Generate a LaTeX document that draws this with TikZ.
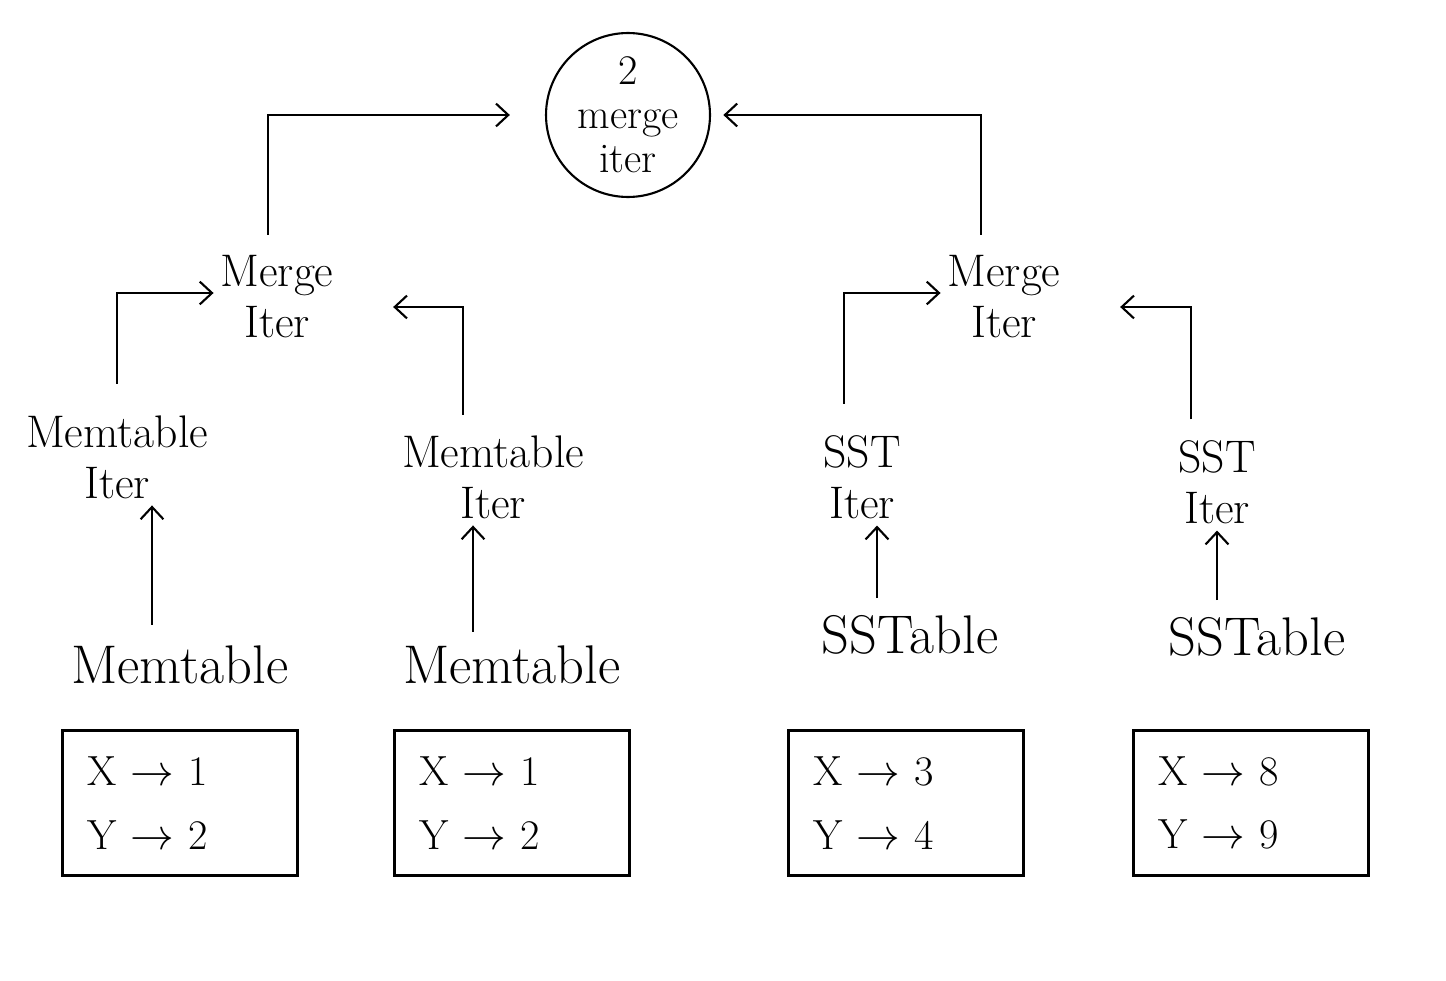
\documentclass[tikz,border=0pt]{standalone}
\usepackage{amsmath}
\usepackage{amssymb}
\usepackage{tikz}
\usetikzlibrary{shapes.geometric , arrows.meta}

\begin{document}
\begin{tikzpicture}[x=0.02cm, y=-0.02cm, line width=1.2pt,
  every node/.style={font=\fontsize{26}{29}\selectfont, align=center},
  src/.style={font=\fontsize{31}{34}\selectfont},
  arr/.style={-{Straight Barb[length=7pt,width=13pt]}, shorten <=8pt},
  kvbox/.style={draw, rectangle, text width=3.7cm, inner xsep=0.5cm, minimum height=2.9cm, align=left, font=\fontsize{24}{27}\selectfont}]

\useasboundingbox (0,0) rectangle (1446,980);

% Top level merge
\node[circle, draw, minimum size=3.28cm, inner sep=0pt, font=\fontsize{24}{25}\selectfont] (top) at (628,115) {2\\merge\\iter};

% Merge iterators
\node (mergeL) at (277,297) {Merge\\Iter};
\node (mergeR) at (1004,297) {Merge\\Iter};

% Child iterators
\node (miterA) at (117,457) {Memtable\\Iter};
\node (miterB) at (493,477) {Memtable\\Iter};
\node (siterA) at (862,477) {SST\\Iter};
\node (siterB) at (1217,482) {SST\\Iter};

% Sources
\node[src] (memA) at (180,665) {Memtable};
\node[src] (memB) at (512,665) {Memtable};
\node[src] (sstA) at (910,635) {SSTable};
\node[src] (sstB) at (1257,637) {SSTable};

% Key value boxes
\node[kvbox] (boxA) at (180,803) {X $\rightarrow$ 1\\[9pt] Y $\rightarrow$ 2};
\node[kvbox] (boxB) at (512,803) {X $\rightarrow$ 1\\[9pt] Y $\rightarrow$ 2};
\node[kvbox] (boxC) at (906,803) {X $\rightarrow$ 3\\[9pt] Y $\rightarrow$ 4};
\node[kvbox] (boxD) at (1251,803) {X $\rightarrow$ 8\\[9pt] Y $\rightarrow$ 9};

% Edges into the top merge
\draw[arr, shorten >=20pt] ([xshift=-0.18cm]mergeL.north) |- (top.west);
\draw[arr, shorten >=7pt] ([xshift=-0.46cm]mergeR.north) |- (top.east);

% Edges into the merge iterators
\draw[arr, shorten <=14pt] (miterA.north) |- ([yshift=0.08cm]mergeL.west);
\draw[arr, shorten >=30pt] ([xshift=-0.6cm]miterB.north) |- ([yshift=-0.2cm]mergeL.east);
\draw[arr, shorten <=14pt] ([xshift=-0.36cm]siterA.north) |- ([yshift=0.08cm]mergeR.west);
\draw[arr, shorten >=30pt] ([xshift=-0.52cm]siterB.north) |- ([yshift=-0.2cm]mergeR.east);

% Edges from sources to iterators
\draw[arr, shorten <=8pt] ([xshift=-0.56cm]memA.north) -- ([xshift=-0.56cm]memA.north |- miterA.south);
\draw[arr, shorten <=4pt] ([xshift=-0.78cm]memB.north) -- ([xshift=-0.78cm]memB.north |- miterB.south);
\draw[arr, shorten <=6pt] ([xshift=-0.66cm]sstA.north) -- ([xshift=-0.66cm]sstA.north |- siterA.south);
\draw[arr, shorten <=6pt] ([xshift=-0.8cm]sstB.north) -- ([xshift=-0.8cm]sstB.north |- siterB.south);
\end{tikzpicture}
\end{document}
